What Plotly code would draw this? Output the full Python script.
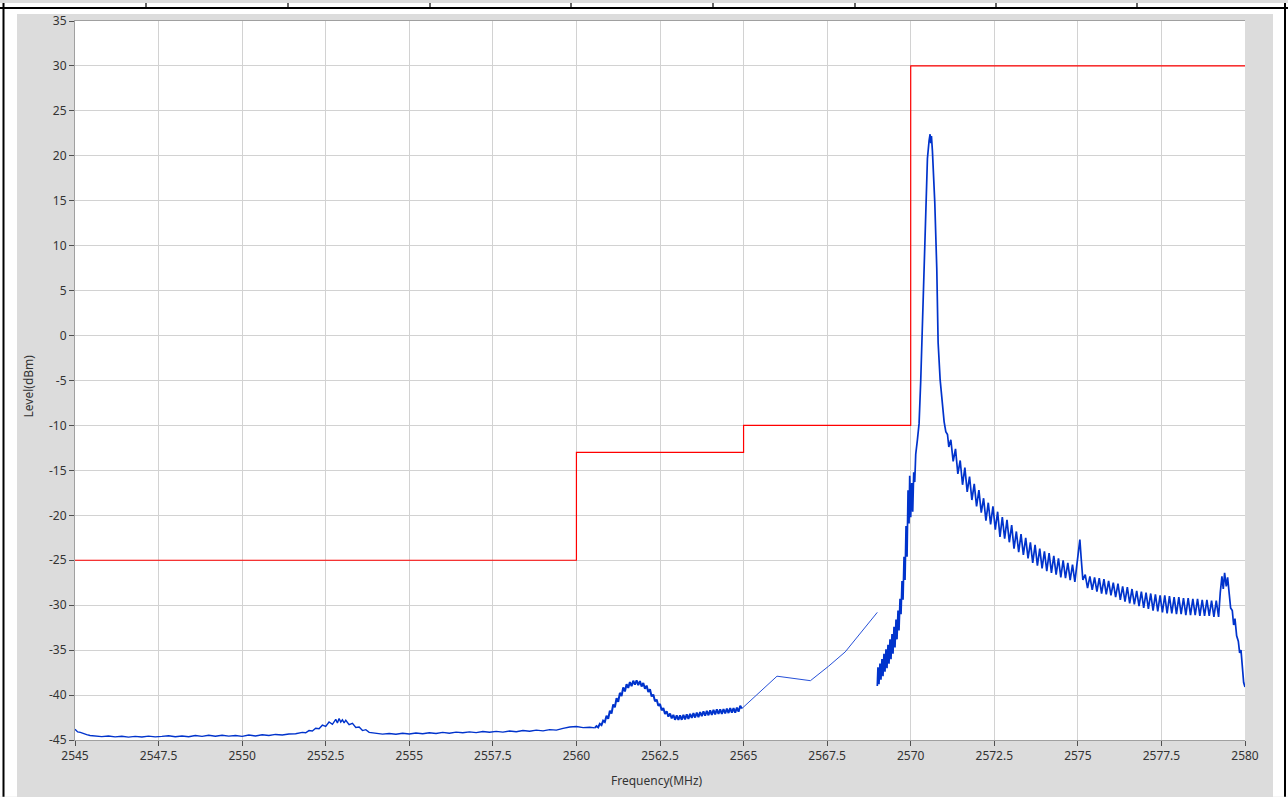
import plotly.graph_objects as go

# ---- spectrum trace, piece by piece (frequency in MHz, level in dBm) ----
floor_f = [2545.00, 2545.08, 2545.16, 2545.25, 2545.35, 2545.45, 2545.6, 2545.8,
           2546.0, 2546.2, 2546.4, 2546.6, 2546.8, 2547.0, 2547.2, 2547.4, 2547.6, 2547.8,
           2548.0, 2548.2, 2548.4, 2548.6, 2548.8, 2549.0, 2549.2, 2549.4, 2549.6, 2549.8,
           2550.0, 2550.2, 2550.4, 2550.6, 2550.8, 2551.0, 2551.2, 2551.4, 2551.6, 2551.8,
           2551.9, 2552.0, 2552.1, 2552.2, 2552.3, 2552.4, 2552.5, 2552.6, 2552.7, 2552.8,
           2552.85, 2552.9, 2552.95, 2553.0, 2553.05, 2553.1, 2553.2, 2553.3, 2553.4, 2553.5,
           2553.6, 2553.7, 2553.8, 2554.0, 2554.2, 2554.4, 2554.6, 2554.8, 2555.0, 2555.2,
           2555.4, 2555.6, 2555.8, 2556.0, 2556.2, 2556.4, 2556.6, 2556.8, 2557.0, 2557.2,
           2557.4, 2557.6, 2557.8, 2558.0, 2558.2, 2558.4, 2558.6, 2558.8, 2559.0, 2559.2,
           2559.4, 2559.6, 2559.8, 2560.0, 2560.2, 2560.4, 2560.55]
floor_l = [-43.8, -44.1, -44.15, -44.3, -44.4, -44.5, -44.55, -44.62,
           -44.55, -44.65, -44.58, -44.68, -44.6, -44.66, -44.57, -44.65, -44.6, -44.52,
           -44.63, -44.55, -44.64, -44.5, -44.6, -44.48, -44.58, -44.47, -44.57, -44.5,
           -44.6, -44.45, -44.55, -44.42, -44.5, -44.38, -44.45, -44.33, -44.3, -44.15,
           -44.2, -43.95, -44.0, -43.7, -43.75, -43.35, -43.5, -43.0, -43.25, -42.7,
           -43.1, -42.6, -43.0, -42.75, -43.1, -42.8, -43.3, -43.15, -43.6, -43.55,
           -43.95, -43.85, -44.15, -44.25, -44.35, -44.28, -44.36, -44.25, -44.33, -44.22,
           -44.3, -44.2, -44.28, -44.15, -44.24, -44.12, -44.2, -44.1, -44.18, -44.05,
           -44.14, -44.04, -44.12, -44.0, -44.08, -43.95, -44.03, -43.9, -43.98, -43.85,
           -43.9, -43.7, -43.55, -43.5, -43.62, -43.58, -43.65]

bump_f = [2560.60, 2560.65, 2560.70, 2560.75, 2560.80, 2560.85, 2560.90, 2560.95,
          2561.00, 2561.05, 2561.10, 2561.15, 2561.20, 2561.25, 2561.30, 2561.35,
          2561.40, 2561.45, 2561.50, 2561.55, 2561.60, 2561.65, 2561.70, 2561.75,
          2561.80, 2561.85, 2561.90, 2561.95, 2562.00, 2562.05, 2562.10, 2562.15,
          2562.20, 2562.25, 2562.30, 2562.35, 2562.40, 2562.45, 2562.50, 2562.55,
          2562.60, 2562.65, 2562.70, 2562.75, 2562.80, 2562.85, 2562.90, 2562.95,
          2563.00, 2563.05, 2563.10, 2563.15, 2563.20, 2563.25, 2563.30, 2563.35,
          2563.40, 2563.45, 2563.50, 2563.55, 2563.60, 2563.65, 2563.70, 2563.75,
          2563.80, 2563.85, 2563.90, 2563.95, 2564.00, 2564.05, 2564.10, 2564.15,
          2564.20, 2564.25, 2564.30, 2564.35, 2564.40, 2564.45, 2564.50, 2564.55,
          2564.60, 2564.65, 2564.70, 2564.75, 2564.80, 2564.85, 2564.90, 2564.95]
bump_l = [-43.45, -43.6, -43.2, -43.35, -42.85, -43.0, -42.3, -42.65,
          -41.75, -42.05, -41.05, -41.35, -40.35, -40.75, -39.75, -40.1,
          -39.15, -39.6, -38.8, -39.2, -38.55, -39.0, -38.4, -38.85,
          -38.35, -38.9, -38.45, -39.05, -38.65, -39.3, -38.95, -39.65,
          -39.35, -40.15, -39.95, -40.7, -40.5, -41.2, -41.0, -41.7,
          -41.45, -42.1, -41.8, -42.4, -42.05, -42.6, -42.2, -42.75,
          -42.25, -42.75, -42.25, -42.75, -42.2, -42.7, -42.15, -42.65,
          -42.1, -42.55, -42.0, -42.5, -41.95, -42.45, -41.9, -42.35,
          -41.8, -42.3, -41.75, -42.25, -41.7, -42.2, -41.65, -42.15,
          -41.6, -42.1, -41.6, -42.1, -41.55, -42.05, -41.5, -42.0,
          -41.45, -41.95, -41.45, -41.95, -41.4, -41.85, -41.2, -41.5]

sparse_f = [2564.95, 2566.0, 2567.0, 2567.54, 2568.04, 2569.0]
sparse_l = [-41.5, -37.9, -38.4, -36.8, -35.2, -30.8]

carrier_f = [2569.00, 2569.02, 2569.05, 2569.08, 2569.11, 2569.14, 2569.17, 2569.20,
             2569.23, 2569.26, 2569.29, 2569.32, 2569.35, 2569.38, 2569.41, 2569.44,
             2569.47, 2569.50, 2569.53, 2569.56, 2569.59, 2569.62, 2569.65, 2569.68,
             2569.71, 2569.74, 2569.77, 2569.80, 2569.83, 2569.86, 2569.89, 2569.92,
             2569.95, 2569.97, 2570.00, 2570.03, 2570.06, 2570.09, 2570.12, 2570.15,
             2570.20, 2570.25, 2570.30, 2570.35, 2570.40, 2570.45, 2570.50, 2570.55,
             2570.58, 2570.60, 2570.62, 2570.65, 2570.72, 2570.78, 2570.82, 2570.88,
             2570.95, 2571.00, 2571.05, 2571.10, 2571.14]
carrier_l = [-39.0, -36.9, -38.8, -36.5, -38.3, -36.0, -37.9, -35.4,
             -37.4, -34.9, -37.0, -34.4, -36.5, -33.8, -36.0, -33.2,
             -35.4, -32.4, -34.7, -31.6, -33.8, -30.6, -32.8, -29.3,
             -31.0, -27.3, -29.4, -24.6, -27.2, -21.2, -24.6, -17.2,
             -20.9, -15.6, -20.2, -16.4, -19.6, -15.2, -16.3, -13.2,
             -11.6, -9.8, -5.0, 1.2, 6.2, 13.5, 19.7, 21.7,
             22.4, 21.4, 22.2, 20.5, 14.8, 7.4, -0.8, -4.9,
             -8.2, -9.6, -10.7, -11.0, -12.4]

tail_f = [2571.20, 2571.27, 2571.34, 2571.41, 2571.48, 2571.55, 2571.62, 2571.69,
          2571.76, 2571.83, 2571.90, 2571.97, 2572.04, 2572.11, 2572.18, 2572.25,
          2572.32, 2572.39, 2572.46, 2572.53, 2572.60, 2572.67, 2572.74, 2572.81,
          2572.88, 2572.95, 2573.02, 2573.09, 2573.16, 2573.23, 2573.30, 2573.37,
          2573.44, 2573.51, 2573.58, 2573.65, 2573.72, 2573.79, 2573.86, 2573.93,
          2574.00, 2574.07, 2574.14, 2574.21, 2574.28, 2574.35, 2574.42, 2574.49,
          2574.56, 2574.63, 2574.70, 2574.77, 2574.84, 2574.91, 2574.98, 2575.03,
          2575.06, 2575.10, 2575.15, 2575.22, 2575.29, 2575.36, 2575.43, 2575.50,
          2575.57, 2575.64, 2575.71, 2575.78, 2575.85, 2575.92, 2575.99, 2576.06,
          2576.13, 2576.20, 2576.27, 2576.34, 2576.41, 2576.48, 2576.55, 2576.62,
          2576.69, 2576.76, 2576.83, 2576.90, 2576.97, 2577.04, 2577.11, 2577.18,
          2577.25, 2577.32, 2577.39, 2577.46, 2577.53, 2577.60, 2577.67, 2577.74,
          2577.81, 2577.88, 2577.95, 2578.02, 2578.09, 2578.16, 2578.23, 2578.30,
          2578.37, 2578.44, 2578.51, 2578.58, 2578.65, 2578.72, 2578.79, 2578.86,
          2578.93, 2579.00, 2579.07, 2579.14, 2579.21, 2579.26, 2579.31, 2579.35,
          2579.39, 2579.44, 2579.48, 2579.53, 2579.57, 2579.62, 2579.66, 2579.70,
          2579.75, 2579.80, 2579.84, 2579.88, 2579.92, 2579.96, 2580.00]
tail_l = [-11.6, -14.0, -12.6, -15.4, -13.9, -16.6, -14.7, -17.4,
          -15.7, -18.3, -16.5, -19.0, -17.2, -19.7, -18.1, -20.6,
          -18.6, -21.0, -19.0, -21.6, -19.6, -22.4, -20.2, -22.6,
          -20.5, -23.0, -21.1, -23.7, -21.8, -24.1, -22.1, -24.4,
          -22.5, -24.8, -23.0, -25.3, -23.3, -25.6, -23.7, -25.9,
          -24.0, -26.2, -24.2, -26.4, -24.5, -26.6, -24.8, -26.9,
          -25.0, -27.0, -25.3, -27.2, -25.5, -27.4, -25.2, -23.5,
          -22.7, -24.8, -27.2, -26.6, -28.1, -26.8, -28.3, -26.9,
          -28.5, -27.0, -28.7, -27.1, -28.8, -27.3, -28.9, -27.5,
          -29.1, -27.6, -29.4, -27.9, -29.6, -28.0, -29.8, -28.2,
          -29.9, -28.4, -30.1, -28.5, -30.3, -28.6, -30.4, -28.7,
          -30.6, -28.8, -30.7, -28.9, -30.8, -28.9, -30.9, -29.0,
          -30.9, -29.1, -31.0, -29.1, -31.0, -29.2, -31.1, -29.2,
          -31.1, -29.3, -31.1, -29.3, -31.2, -29.4, -31.2, -29.4,
          -31.2, -29.5, -31.3, -29.5, -31.3, -28.6, -26.8, -28.2,
          -26.4, -27.9, -26.9, -28.8, -30.3, -30.6, -32.2, -31.5,
          -33.4, -34.0, -35.3, -35.0, -37.0, -38.6, -39.1]

# ---- emission limit mask ----
mask_f = [2545, 2560, 2565, 2570, 2580]
mask_l = [-25, -13, -10, 30, 30]

# ---- axis ticks ----
x_ticks = [2545, 2547.5, 2550, 2552.5, 2555, 2557.5, 2560, 2562.5, 2565,
           2567.5, 2570, 2572.5, 2575, 2577.5, 2580]
x_tick_labels = ["2545", "2547.5", "2550", "2552.5", "2555", "2557.5", "2560",
                 "2562.5", "2565", "2567.5", "2570", "2572.5", "2575", "2577.5", "2580"]
y_ticks = [-45, -40, -35, -30, -25, -20, -15, -10, -5, 0, 5, 10, 15, 20, 25, 30, 35]
y_tick_labels = ["-45", "-40", "-35", "-30", "-25", "-20", "-15", "-10", "-5",
                 "0", "5", "10", "15", "20", "25", "30", "35"]

BLUE = "#0033cc"
RED = "#ff0000"
FONT = "Noto Sans"

fig = go.Figure()
fig.add_trace(go.Scatter(x=floor_f, y=floor_l, mode="lines",
                         line=dict(color=BLUE, width=1.4), hoverinfo="skip"))
fig.add_trace(go.Scatter(x=[floor_f[-1]] + bump_f, y=[floor_l[-1]] + bump_l, mode="lines",
                         line=dict(color=BLUE, width=2.0), hoverinfo="skip"))
fig.add_trace(go.Scatter(x=sparse_f, y=sparse_l, mode="lines",
                         line=dict(color="#2650d8", width=1.0), hoverinfo="skip"))
fig.add_trace(go.Scatter(x=carrier_f + tail_f, y=carrier_l + tail_l, mode="lines",
                         line=dict(color=BLUE, width=1.7), hoverinfo="skip"))
fig.add_trace(go.Scatter(x=mask_f, y=mask_l, mode="lines", line_shape="hv",
                         line=dict(color=RED, width=1.2), hoverinfo="skip"))

# plot area geometry in pixels, used to place the frame decorations
L, R, T, B = 75, 1245, 18, 740


def px_x(p):
    return (p - L) / (R - L)


def px_y(p):
    return (B - p) / (B - T)


shapes = []
# white page strips around the grey chart panel
for x0, x1, y0, y1 in [(0, 17, 0, 797), (0, 1288, 0, 11), (1273, 1288, 0, 797)]:
    shapes.append(dict(type="rect", xref="paper", yref="paper",
                       x0=px_x(x0), x1=px_x(x1), y0=px_y(y1), y1=px_y(y0),
                       fillcolor="white", line=dict(width=0), layer="above"))
# table border lines
shapes.append(dict(type="line", xref="paper", yref="paper", x0=px_x(0), x1=px_x(1288),
                   y0=px_y(5), y1=px_y(5), line=dict(color="black", width=2)))
for xv in [3.5, 1285]:
    shapes.append(dict(type="line", xref="paper", yref="paper", x0=px_x(xv), x1=px_x(xv),
                       y0=px_y(0), y1=px_y(797), line=dict(color="black", width=2)))
for xv in [146, 288, 430, 571, 713, 855, 996, 1137]:
    shapes.append(dict(type="line", xref="paper", yref="paper", x0=px_x(xv), x1=px_x(xv),
                       y0=px_y(0), y1=px_y(5), line=dict(color="black", width=1.2)))

axis_common = dict(showgrid=True, gridcolor="#d2d2d2", gridwidth=1, zeroline=False,
                   showline=True, linecolor="#a0a0a0", linewidth=1,
                   ticks="outside", ticklen=5, tickcolor="#505050", tickwidth=1,
                   tickfont=dict(family=FONT, size=12, color="#333333"))

fig.update_layout(
    width=1288, height=797, autosize=False,
    margin=dict(l=L, r=1288 - R, t=T, b=797 - B, pad=0),
    paper_bgcolor="#dcdcdc", plot_bgcolor="white",
    showlegend=False,
    xaxis=dict(range=[2545, 2580], tickmode="array", tickvals=x_ticks,
               ticktext=x_tick_labels, mirror=True, **axis_common),
    yaxis=dict(range=[-45, 35], tickmode="array", tickvals=y_ticks,
               ticktext=y_tick_labels, **axis_common),
    shapes=shapes,
    annotations=[
        dict(text="Level(dBm)", xref="paper", yref="paper", x=px_x(28), y=px_y(385),
             textangle=-90, showarrow=False, xanchor="center", yanchor="middle",
             font=dict(family=FONT, size=12, color="#333333")),
        dict(text="Frequency(MHz)", xref="paper", yref="paper", x=px_x(657), y=px_y(781),
             showarrow=False, xanchor="center", yanchor="middle",
             font=dict(family=FONT, size=12, color="#333333")),
    ],
)

fig.write_html("out.html")
